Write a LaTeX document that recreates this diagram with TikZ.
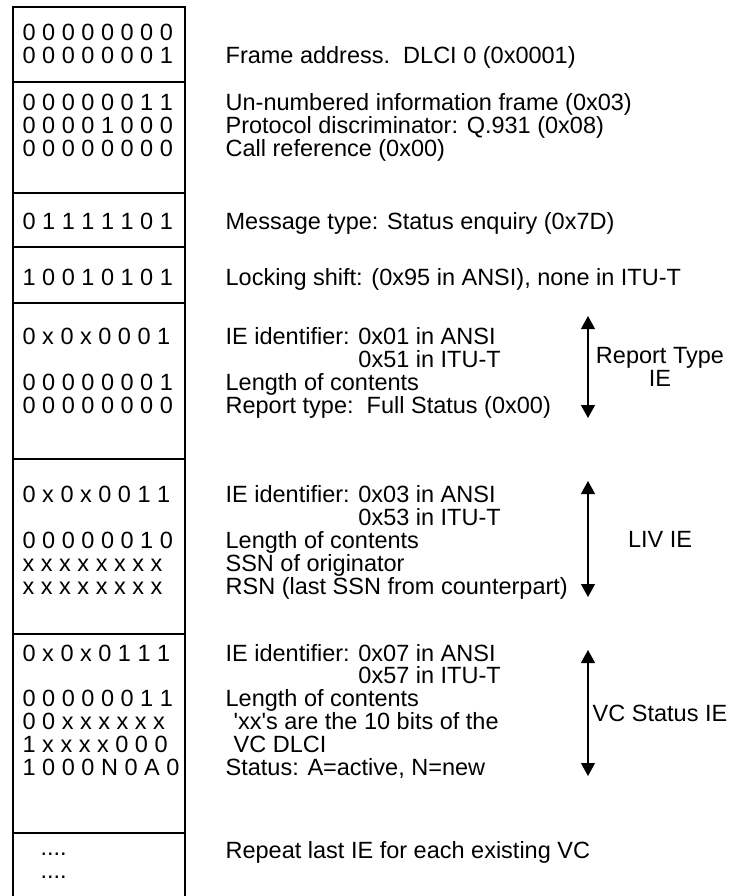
\documentclass[tikz,border=0pt]{standalone}
\usepackage{fontspec}
\setmainfont{Liberation Sans}
\usetikzlibrary{arrows.meta}

\tikzstyle{bits} = [anchor=base west, inner sep=0pt, align=left]
\tikzstyle{desc} = [anchor=base west, inner sep=0pt, align=left]
\tikzstyle{iearrow} = [{Triangle[length=6.5pt,width=7pt]}-{Triangle[length=6.5pt,width=7pt]}, line width=0.6pt]
\tikzstyle{ielabel} = [inner sep=0pt, align=center, xshift=36pt]
\newcommand{\ieindent}{\phantom{IE identifier: }}

\begin{document}
\begin{tikzpicture}[x=0.5pt, y=-0.5pt, line width=0.65pt,
  every node/.style={font=\fontsize{11.75pt}{11.4pt}\selectfont}]
		\useasboundingbox (0,0) rectangle (730,896);
		% frame column
		\draw (13,896) -- (13,7) -- (185,7) -- (185,896);
		\draw (13,82) -- (185,82);
		\draw (13,193) -- (185,193);
		\draw (13,247) -- (185,247);
		\draw (13,303) -- (185,303);
		\draw (13,459) -- (185,459);
		\draw (13,634) -- (185,634);
		\draw (13,833) -- (185,833);
		% octets (placed at the baseline of their last line)
		\node [bits] (b1) at (22,63) {0 0 0 0 0 0 0 0\\0 0 0 0 0 0 0 1};
		\node [bits] (b2) at (22,156) {0 0 0 0 0 0 1 1\\0 0 0 0 1 0 0 0\\0 0 0 0 0 0 0 0};
		\node [bits] (b3) at (22,229) {0 1 1 1 1 1 0 1};
		\node [bits] (b4) at (22,285) {1 0 0 1 0 1 0 1};
		\node [bits] (b5) at (22,413) {0 x 0 x 0 0 0 1\\ \mbox{}\\0 0 0 0 0 0 0 1\\0 0 0 0 0 0 0 0};
		\node [bits] (b6) at (22,594) {0 x 0 x 0 0 1 1\\ \mbox{}\\0 0 0 0 0 0 1 0\\x x x x x x x x\\x x x x x x x x};
		\node [bits] (b7) at (22,775) {0 x 0 x 0 1 1 1\\ \mbox{}\\0 0 0 0 0 0 1 1\\0 0 x x x x x x\\1 x x x x 0 0 0\\1 0 0 0 N 0 A 0};
		\node [bits] (b8) at (40,878) {....\\....};
		% meaning of the octets
		\node [desc] (d1) at (225,63) {Frame address.\ \ DLCI 0 (0x0001)};
		\node [desc] (d2) at (225,156) {Un-numbered information frame (0x03)\\Protocol discriminator: Q.931 (0x08)\\Call reference (0x00)};
		\node [desc] (d3) at (225,229) {Message type: Status enquiry (0x7D)};
		\node [desc] (d4) at (225,285) {Locking shift: (0x95 in ANSI), none in ITU-T};
		\node [desc] (d5) at (225,413) {IE identifier: 0x01 in ANSI\\\ieindent0x51 in ITU-T\\Length of contents\\Report type:\ \ Full Status (0x00)};
		\node [desc] (d6) at (225,594) {IE identifier: 0x03 in ANSI\\\ieindent0x53 in ITU-T\\Length of contents\\SSN of originator\\RSN (last SSN from counterpart)};
		\node [desc] (d7) at (225,775) {IE identifier: 0x07 in ANSI\\\ieindent0x57 in ITU-T\\Length of contents\\\hspace*{4pt}\textquotesingle xx\textquotesingle s are the 10 bits of the\\\hspace*{4pt}VC DLCI\\Status: A=active, N=new};
		\node [desc] (d8) at (225,858) {Repeat last IE for each existing VC};
		% IE spans
		\coordinate (rtTop) at (588,316);
		\coordinate (rtBot) at (588,418);
		\coordinate (livTop) at (588,481);
		\coordinate (livBot) at (588,597);
		\coordinate (vcTop) at (588,650);
		\coordinate (vcBot) at (588,776);
		\draw [iearrow] (rtTop) -- node [ielabel] (rtLabel) {Report Type\\IE} (rtBot);
		\draw [iearrow] (livTop) -- node [ielabel] (livLabel) {LIV IE} (livBot);
		\draw [iearrow] (vcTop) -- node [ielabel] (vcLabel) {VC Status IE} (vcBot);
\end{tikzpicture}
\end{document}
